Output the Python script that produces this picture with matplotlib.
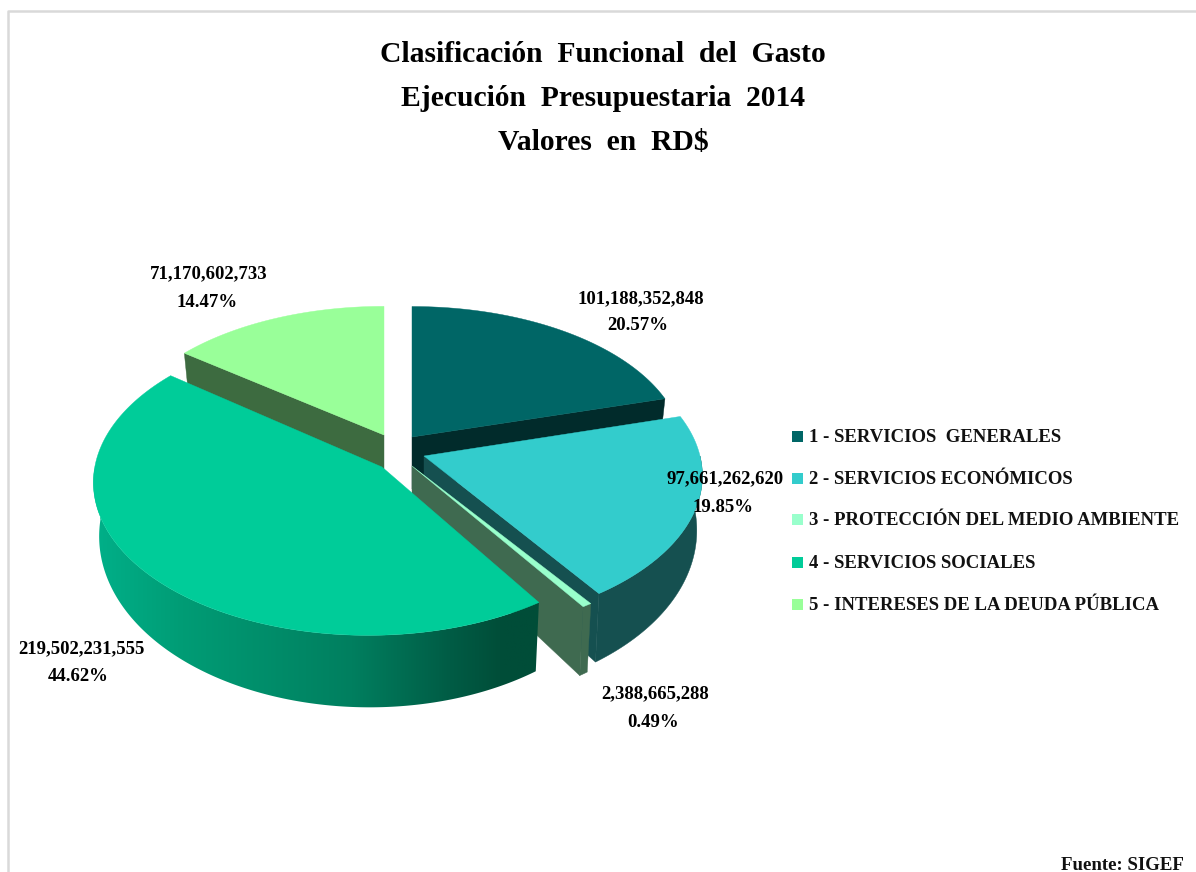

import numpy as np
import matplotlib
matplotlib.use("Agg")
import matplotlib.pyplot as plt
from matplotlib.colors import LinearSegmentedColormap
from matplotlib.patches import Polygon, Rectangle

plt.rcParams["font.family"] = ["Liberation Serif", "DejaVu Serif"]

title_lines = ["Clasificación  Funcional  del  Gasto", "Ejecución  Presupuestaria  2014", "Valores  en  RD$"]
categories = ["1 - SERVICIOS  GENERALES", "2 - SERVICIOS ECONÓMICOS", "3 - PROTECCIÓN DEL MEDIO AMBIENTE",
              "4 - SERVICIOS SOCIALES", "5 - INTERESES DE LA DEUDA PÚBLICA"]
values = [101188352848, 97661262620, 2388665288, 219502231555, 71170602733]
value_labels = ["101,188,352,848", "97,661,262,620", "2,388,665,288", "219,502,231,555", "71,170,602,733"]
percent_labels = ["20.57%", "19.85%", "0.49%", "44.62%", "14.47%"]

top_colors = ["#006666", "#33CCCC", "#99FFCC", "#00CC99", "#99FF99"]
wall_colors = ["#012B2B", "#155050", "#3F6A50", "#00694F", "#3D6B40"]

# slice geometry in pixels: tip x, tip y, x radius, y radius, perspective k, m
geometry = [
    (412, 437, 270, 143, 0.096, 0.0),
    (424, 456, 276, 149, 0.13, 0.0),
    (412, 466, 282, 149, 0.13, 0.0),
    (382, 467, 274, 152, 0.096, 0.046),
    (384, 435, 268, 141, 0.096, 0.0),
]

# which radial edge of each slice shows a wall: 0 start, -1 end
radial_edge = [-1, -1, -1, None, 0]

# position of both text lines of each data label
value_pos = [(641, 299), (725, 479), (655, 694), (81, 649), (209, 274)]
percent_pos = [(638, 325), (723, 507), (653, 722), (78, 676), (207, 302)]
legend_y = [436, 478, 519, 562, 604]
title_y = [54, 98, 142]

fractions = np.array(values) / np.sum(values)
edges = np.concatenate([[0], np.cumsum(fractions)]) * 2 * np.pi


def project(i, theta):
    cx, cy, a, d, k, m = geometry[i]
    u, v = np.sin(theta), np.cos(theta)
    s = 1 / (1 + k * v + m * u)
    return cx + a * u * s, cy - d * v * s


def lower(i, x, y, theta):
    # the bottom face sits lower, more so towards the viewer
    depth = 52 - 20 * np.cos(theta)
    return x - 0.02 * (x - geometry[i][0]), y + depth


fig = plt.figure(figsize=(11.96, 8.72), dpi=100)
ax = fig.add_axes([0, 0, 1, 1])

ax.plot([8, 8, 1196], [872, 11, 11], color="#D9D9D9", lw=1.8, zorder=0)

side_cmap = LinearSegmentedColormap.from_list(
    "side", [(0, "#00B089"), (0.2, "#009C75"), (0.58, "#007F5F"), (0.8, "#005C45"), (0.92, "#004D38"), (1, "#004D38")])

# back to front, so the nearer slices cover the others
for i in [4, 0, 1, 2, 3]:
    cx, cy = geometry[i][:2]
    theta = np.linspace(edges[i], edges[i + 1], 300)
    x, y = project(i, theta)
    xb, yb = lower(i, x, y, theta)

    if radial_edge[i] is not None:
        n = radial_edge[i]
        ax.add_patch(Polygon([(cx, cy), (x[n], y[n]), (xb[n], yb[n]), (cx, cy + 52)], closed=True,
                             fc=wall_colors[i], ec=wall_colors[i], lw=0.3))

    # outer wall, only the part turned to the viewer
    front = np.cos(theta) < 0
    if front.any():
        outer = np.column_stack([np.concatenate([x[front], xb[front][::-1]]),
                                 np.concatenate([y[front], yb[front][::-1]])])
        wall = Polygon(outer, closed=True, fc=wall_colors[i], ec=wall_colors[i], lw=0.3)
        ax.add_patch(wall)
        if i == 3:
            wall.set_facecolor("none")
            wall.set_edgecolor("none")
            im = ax.imshow(np.linspace(0, 1, 256)[None, :], cmap=side_cmap, aspect="auto",
                           extent=[93, 540, 720, 460], zorder=wall.get_zorder())
            im.set_clip_path(wall)

    # top face
    top = np.column_stack([np.concatenate([[cx], x]), np.concatenate([[cy], y])])
    ax.add_patch(Polygon(top, closed=True, fc=top_colors[i], ec=top_colors[i], lw=0.3, zorder=1.5))

for i in range(5):
    ax.text(*value_pos[i], value_labels[i], ha="center", va="center", fontsize=13.5, fontweight="bold", color="black", zorder=5)
    ax.text(*percent_pos[i], percent_labels[i], ha="center", va="center", fontsize=13.5, fontweight="bold", color="black", zorder=5)
    ax.add_patch(Rectangle((792, legend_y[i] - 5.5), 11, 11, fc=top_colors[i], ec="none", zorder=5))
    ax.text(809, legend_y[i] + 1, categories[i], ha="left", va="center", fontsize=13.5, fontweight="bold", color="#111111", zorder=5)

for line, y in zip(title_lines, title_y):
    ax.text(603, y, line, ha="center", va="center", fontsize=21.3, fontweight="bold", color="black")

ax.text(1184, 865, "Fuente: SIGEF", ha="right", va="center", fontsize=13.6, fontweight="bold", color="#111111")

ax.set_xlim(0, 1196)
ax.set_ylim(872, 0)
ax.axis("off")

fig.savefig("out.png", dpi=100)
